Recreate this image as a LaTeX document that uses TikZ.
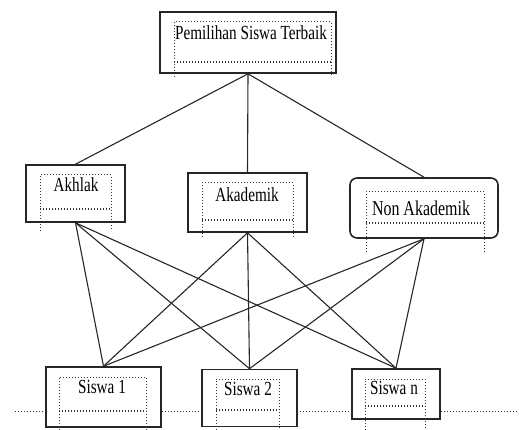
\documentclass[tikz,border=0pt]{standalone}
\usepackage{fontspec}
\setmainfont{Liberation Serif}
\usepackage{graphicx}
\newcommand\sqz[1]{\scalebox{0.76}[1]{#1}}
\begin{document}
\begin{tikzpicture}[x=1pt,y=-1pt,
  box/.style={draw=black!85,line width=1.6pt,fill=white,inner sep=0pt},
  lbl/.style={inner sep=0pt,font=\fontsize{20}{22}\selectfont},
  link/.style={draw=black!85,line width=1.1pt},
  dotbox/.style={draw=black!80,line width=1pt,dotted},
  base/.style={draw=black!80,line width=1pt,dotted}]
\useasboundingbox (0,0) rectangle (519,430);
% dotted baseline
\draw[base] (15,411) -- (519,411);
% boxes
\node[box,minimum width=176pt,minimum height=61pt] (top) at (248,42.5) {};
\node[box,minimum width=99pt,minimum height=57pt] (akh) at (75.5,193.5) {};
\node[box,minimum width=119pt,minimum height=59pt] (aka) at (247.5,202.5) {};
\node[box,rounded corners=7pt,minimum width=148pt,minimum height=60pt] (non) at (424,208) {};
\node[box,minimum width=115pt,minimum height=60pt] (s1) at (103.5,397) {};
\node[box,minimum width=95pt,minimum height=57pt] (s2) at (249.5,398) {};
\node[box,minimum width=88pt,minimum height=50pt] (sn) at (396,394) {};
% dotted inner frames
\draw[dotbox] (174,77) -- (174,22) -- (331,22) -- (331,77);
\draw[dotbox,line width=1.6pt] (174,62) -- (331,62);
\draw[dotbox] (40,231) -- (40,175) -- (111,175) -- (111,231);
\draw[dotbox,line width=1.6pt] (40,209) -- (111,209);
\draw[dotbox] (202,237) -- (202,183) -- (293,183) -- (293,237);
\draw[dotbox,line width=1.6pt] (202,220) -- (293,220);
\draw[dotbox] (366,252) -- (366,192) -- (484,192) -- (484,252);
\draw[dotbox,line width=1.6pt] (366,223) -- (484,223);
\draw[dotbox] (59,430) -- (59,377) -- (146,377) -- (146,430);
\draw[dotbox,line width=1.6pt] (59,411) -- (146,411);
\draw[dotbox] (216,430) -- (216,379) -- (279,379) -- (279,430);
\draw[dotbox,line width=1.6pt] (216,410) -- (279,410);
\draw[dotbox] (365,430) -- (365,379) -- (425,379) -- (425,430);
\draw[dotbox,line width=1.6pt] (365,406) -- (425,406);
% labels
\node[lbl] (ltop) at (251,33) {\sqz{Pemilihan Siswa Terbaik}};
\node[lbl] (lakh) at (76,185) {\sqz{Akhlak}};
\node[lbl] (laka) at (247,195) {\sqz{Akademik}};
\node[lbl,font=\fontsize{21}{23}\selectfont] (lnon) at (421,208) {\sqz{Non Akademik}};
\node[lbl] (ls1) at (102,387) {\sqz{Siswa 1}};
\node[lbl] (ls2) at (248,389) {\sqz{Siswa 2}};
\node[lbl] (lsn) at (394,388) {\sqz{Siswa n}};
% connectors
\draw[link] (top.south) -- (akh.north);
\draw[link] (top.south) -- (aka.north);
\draw[link] (top.south) -- (non.north);
\foreach \a in {akh,aka,non}{
  \foreach \b in {s1,s2,sn}{
    \draw[link] (\a.south) -- (\b.north);
  }
}
\end{tikzpicture}
\end{document}
